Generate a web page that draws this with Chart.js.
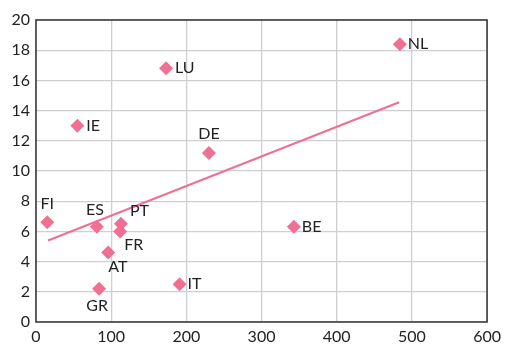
<!DOCTYPE html>
<html><head><meta charset="utf-8">
<script src="https://cdn.jsdelivr.net/npm/chart.js@4"></script>
<style>html,body{margin:0;padding:0;background:#fff}#wrap{width:506px;height:347px}</style>
</head><body><div id="wrap"><canvas id="c" width="506" height="347"></canvas></div>
<script>
const countries = ["NL","LU","IE","DE","FI","ES","PT","FR","AT","GR","IT","BE"];
const xValues  = [484, 173, 55, 230, 15, 81, 113, 112, 96, 84, 191, 343];
const yValues  = [18.4, 16.8, 13.0, 11.2, 6.6, 6.3, 6.5, 6.0, 4.6, 2.2, 2.5, 6.3];
const trendX = [16, 483];
const trendY = [5.4, 14.55];
const xTicks = [0,100,200,300,400,500,600];
const yTicks = [0,2,4,6,8,10,12,14,16,18,20];
// label placement: [dx, dy, align, baseline]
const labelPos = {
  NL:[8,0,'left','middle'], LU:[9,0,'left','middle'], IE:[9,0,'left','middle'],
  DE:[0,-11,'center','bottom'], FI:[0,-10,'center','bottom'], ES:[-2,-9,'center','bottom'],
  PT:[9,-5,'left','bottom'], FR:[4,5,'left','top'], AT:[0,6,'left','top'],
  GR:[-2,9,'center','top'], IT:[8,0,'left','middle'], BE:[8,0,'left','middle']
};
const pink = '#EF7093';
const FONT = 'Lato, "Open Sans", sans-serif';
const points = countries.map((c,i)=>({x:xValues[i], y:yValues[i], label:c}));
const trend = trendX.map((x,i)=>({x, y:trendY[i]}));

const boxPlugin = {
  id:'box',
  beforeDatasetsDraw(chart){
    const a = chart.chartArea, ctx = chart.ctx;
    ctx.save(); ctx.strokeStyle = '#333'; ctx.lineWidth = 1.5;
    ctx.strokeRect(a.left, a.top, a.right-a.left, a.bottom-a.top);
    ctx.restore();
  },
  afterDatasetsDraw(chart){
    const ctx = chart.ctx, xs = chart.scales.x, ys = chart.scales.y;
    ctx.save();
    ctx.font = '16px ' + FONT;
    ctx.fillStyle = '#222';
    points.forEach(p=>{
      const [dx,dy,al,bl] = labelPos[p.label];
      ctx.textAlign = al; ctx.textBaseline = bl;
      ctx.fillText(p.label, xs.getPixelForValue(p.x)+dx, ys.getPixelForValue(p.y)+dy);
    });
    ctx.restore();
  }
};

new Chart(document.getElementById('c'), {
  type:'scatter',
  data:{datasets:[
    {type:'line', data:trend, borderColor:pink, borderWidth:2.2, pointRadius:0, fill:false, order:2},
    {data:points, pointStyle:'rectRot', pointRadius:7, pointHoverRadius:7, backgroundColor:pink, borderColor:pink, borderWidth:0, order:1}
  ]},
  options:{
    responsive:false, animation:false, devicePixelRatio:1,
    layout:{padding:{left:0, right:17, top:20, bottom:0}},
    plugins:{legend:{display:false}, tooltip:{enabled:false}},
    scales:{
      x:{type:'linear', min:0, max:600,
        afterBuildTicks(s){ s.ticks = xTicks.map(v=>({value:v})); },
        afterFit(s){ s.height = 25; },
        grid:{color:'#cfcfcf', lineWidth:1.3, drawTicks:false},
        border:{display:false},
        ticks:{color:'#222', font:{size:16, family:FONT}, padding:5, maxRotation:0}
      },
      y:{type:'linear', min:0, max:20,
        afterBuildTicks(s){ s.ticks = yTicks.map(v=>({value:v})); },
        afterFit(s){ s.width = 36; },
        grid:{color:'#cfcfcf', lineWidth:1.3, drawTicks:false},
        border:{display:false},
        ticks:{color:'#222', font:{size:16, family:FONT}, padding:6}
      }
    }
  },
  plugins:[boxPlugin]
});
</script></body></html>
